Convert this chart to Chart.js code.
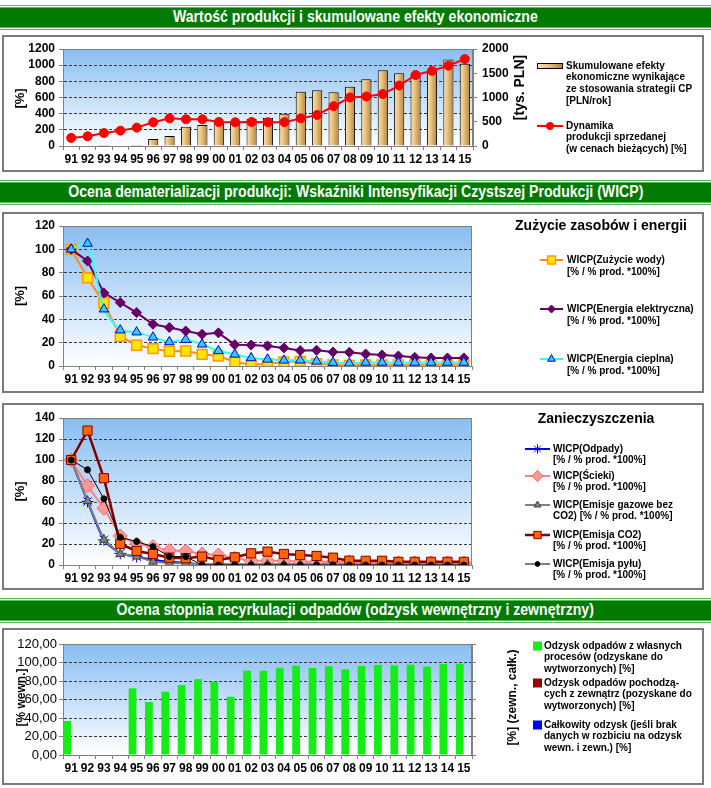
<!DOCTYPE html>
<html>
<head>
<meta charset="utf-8">
<script src="https://cdn.jsdelivr.net/npm/chart.js@4/dist/chart.umd.min.js"></script>
<style>
body{margin:0;background:#fff;width:711px;height:788px;position:relative;overflow:hidden;font-family:"Liberation Sans",Arial,sans-serif}
.hdr{position:absolute;left:0;width:711px;height:19px;line-height:19px;background:#007a00;background-clip:padding-box;
  border-top:3px double #5cb85c;border-bottom:3px double #5cb85c;color:#fff;text-align:center;
  font:bold 16px "Liberation Sans",Arial,sans-serif;white-space:nowrap}
.hdr span{display:inline-block;transform:scaleX(0.88);transform-origin:center}
.panel{position:absolute;left:2px;width:702px;box-sizing:border-box;border:2px solid #7a7a7a;background:#fff}
canvas{position:absolute;left:0}
</style>
</head>
<body>
<div class="hdr" style="top:5px"><span>Wartość produkcji i skumulowane efekty ekonomiczne</span></div>
<div class="panel" style="top:35px;height:137px"></div>
<canvas id="c1" width="711" height="137" style="top:35px"></canvas>

<div class="hdr" style="top:180px"><span>Ocena dematerializacji produkcji: Wskaźniki Intensyfikacji Czystszej Produkcji (WICP)</span></div>
<div class="panel" style="top:212px;height:181px"></div>
<canvas id="c2" width="711" height="181" style="top:212px"></canvas>
<div class="panel" style="top:403px;height:187px"></div>
<canvas id="c3" width="711" height="187" style="top:403px"></canvas>

<div class="hdr" style="top:598px"><span>Ocena stopnia recyrkulacji odpadów (odzysk wewnętrzny i zewnętrzny)</span></div>
<div class="panel" style="top:628px;height:157px"></div>
<canvas id="c4" width="711" height="157" style="top:628px"></canvas>

<script>
// lata (kategorie osi X)
const lata = ['91','92','93','94','95','96','97','98','99','00','01','02','03','04','05','06','07','08','09','10','11','12','13','14','15']

// wykres 1 - efekty ekonomiczne [tys. PLN] i dynamika produkcji [%]
const efektyEkonomiczne = [0,0,2,5,20,145,206,398,433,488,515,557,583,667,1120,1148,1107,1223,1374,1560,1498,1463,1547,1786,1697]
const dynamikaProdukcji = [100,120,160,190,227,293,342,330,330,297,293,297,293,295,342,384,493,600,612,643,748,878,930,994,1076]

// wykres 2 - zuzycie zasobow i energii
const wicpWoda = [100,75.6,54,25.5,17.8,14.9,12.6,12.9,10,8.6,3.4,1.1,2,3.4,4,2,1,0.5,1,1,1,1,1,1,1]
const wicpEnergiaElektr = [100,90,62.7,54.4,45.8,35.8,33,30,27.2,28.4,18.3,18,17.2,15.5,13.2,13.5,12,11.7,10.3,9.5,8.6,7.4,6.9,6.9,6.9]
const wicpEnergiaCiepl = [100,105,48.7,30.7,29,24.6,20.6,22.6,18.6,12.9,10,6.9,5.7,4.9,4.9,4,2.9,2.3,3,3,3,3,3,3,3]

// wykres 3 - zanieczyszczenia
const wicpOdpady = [100,60.5,23.9,11.1,8,4.8,3.2,2.2,0.5,0.5,0.5,0.5,0.5,0.5,0.5,0.5,0.5,0.5,0.5,0.5,0.5,0.5,0.5,0.5,0.5]
const wicpScieki = [100,75.4,54,27.7,20,17.5,13.7,13.4,10.5,9.5,6.4,4,4,4,3,3,3,3,2,2,2,2,2,2,2]
const wicpEmisjeGaz = [100,61,24,10.5,8,3.2,1.6,1.6,0.5,0.5,0.5,0.5,0.5,0.5,0.5,0.5,0.5,0.5,0.5,0.5,0.5,0.5,0.5,0.5,0.5]
const wicpEmisjaCO2 = [100,128,82.7,20,13.4,10.5,7,6.4,8,4.8,7.3,11.1,12.7,10.5,9.5,8.6,7,4.1,4,4,3,3,3,3,3]
const wicpEmisjaPylu = [100,90.7,63,26.4,22.3,17.5,8,8,0,0,0,0,0,0,0,0,0,0,0,0,0,0,0,0,0]

// wykres 4 - odzysk odpadow [%]
const odzyskWlasny = [36.8,null,null,null,72,57.3,68.5,75.7,82,79.3,63,91.2,91.2,94.4,96.6,94,95.9,92.6,96.2,97.3,96.9,97.7,95.5,98.4,98.7]
const odzyskZewn = []
const odzyskCalk = []

// teksty legend
const legenda1 = [
  ['Skumulowane efekty','ekonomiczne wynikające','ze stosowania strategii CP','[PLN/rok]'],
  ['Dynamika','produkcji sprzedanej','(w cenach bieżących) [%]']
]
const legenda2 = [
  ['WICP(Zużycie wody)','[% / % prod. *100%]'],
  ['WICP(Energia elektryczna)','[% / % prod. *100%]'],
  ['WICP(Energia cieplna)','[% / % prod. *100%]']
]
const legenda3 = [
  ['WICP(Odpady)','[% / % prod. *100%]'],
  ['WICP(Ścieki)','[% / % prod. *100%]'],
  ['WICP(Emisje gazowe bez','CO2) [% / % prod. *100%]'],
  ['WICP(Emisja CO2)','[% / % prod. *100%]'],
  ['WICP(Emisja pyłu)','[% / % prod. *100%]']
]
const legenda4 = [
  ['Odzysk odpadów z własnych','procesów (odzyskane do','wytworzonych) [%]'],
  ['Odzysk odpadów pochodzą-','cych z zewnątrz (pozyskane do','wytworzonych) [%]'],
  ['Całkowity odzysk (jeśli brak','danych w rozbiciu na odzysk','wewn. i zewn.) [%]']
]

const FONT = '"Liberation Sans", Arial, sans-serif'
const GRID = '#3a3a3a'
const AXIS = '#808080'

Chart.defaults.font.family = FONT
Chart.defaults.color = '#000'
Chart.defaults.animation = false

function tanFill(g){
  g.addColorStop(0, '#fae4b4')
  g.addColorStop(0.4, '#e9c482')
  g.addColorStop(1, '#b58332')
  return g
}

function tanGradient(c){
  const el = c.element
  if(!el || !isFinite(el.x) || !el.width) return '#e0bc78'
  return tanFill(c.chart.ctx.createLinearGradient(el.x - el.width/2, 0, el.x + el.width/2, 0))
}

const plotBg = {
  id: 'plotBg',
  beforeDraw(chart){
    const {ctx, chartArea: a} = chart
    const g = ctx.createLinearGradient(0, a.top, 0, a.bottom)
    g.addColorStop(0, '#88bdf2')
    g.addColorStop(1, '#ffffff')
    ctx.save()
    ctx.fillStyle = g
    ctx.fillRect(a.left, a.top, a.right - a.left, a.bottom - a.top)
    ctx.restore()
  },
  beforeDatasetsDraw(chart){
    const {ctx, chartArea: a} = chart
    ctx.save()
    ctx.strokeStyle = AXIS
    ctx.lineWidth = 1
    ctx.strokeRect(a.left + 0.5, a.top + 0.5, a.right - a.left - 1, a.bottom - a.top)
    ctx.restore()
  }
}

function axisTitles(list){
  return {
    id: 'axisTitles',
    afterDraw(chart){
      const {ctx, chartArea: a} = chart
      list.forEach(t=>{
        ctx.save()
        ctx.translate(t.x, (a.top + a.bottom)/2 + (t.dy || 0))
        ctx.rotate(-Math.PI/2)
        ctx.font = 'bold ' + (t.size || 13) + 'px ' + FONT
        ctx.fillStyle = '#000'
        ctx.textAlign = 'center'
        ctx.textBaseline = 'middle'
        ctx.fillText(t.text, 0, 0)
        ctx.restore()
      })
    }
  }
}

function drawMarker(ctx, ds, x, y, scale){
  if(!ds.pointRadius) return
  ctx.fillStyle = ds.pointBackgroundColor || ds.borderColor
  ctx.strokeStyle = ds.pointBorderColor || ds.borderColor
  ctx.lineWidth = ds.pointBorderWidth || 1
  const opts = {pointStyle: ds.pointStyle || 'circle', radius: ds.pointRadius * scale, rotation: 0, borderWidth: ds.pointBorderWidth || 1}
  if(Chart.helpers && Chart.helpers.drawPoint){
    Chart.helpers.drawPoint(ctx, opts, x, y)
  } else {
    ctx.beginPath(); ctx.arc(x, y, opts.radius, 0, Math.PI*2); ctx.fill(); ctx.stroke()
  }
}

function legendPlugin(cfg){
  return {
    id: 'legendBox',
    afterDraw(chart){
      const ctx = chart.ctx
      ctx.save()
      if(cfg.title){
        ctx.font = 'bold 14px ' + FONT
        ctx.fillStyle = '#000'
        ctx.textAlign = 'center'
        ctx.textBaseline = 'middle'
        ctx.fillText(cfg.title, cfg.titleX, cfg.titleY)
      }
      cfg.items.forEach(it=>{
        const ds = chart.data.datasets[it.ds]
        const x1 = cfg.iconX1, x2 = cfg.iconX2, y = it.y
        if(it.kind === 'line'){
          ctx.strokeStyle = ds.borderColor
          ctx.lineWidth = ds.borderWidth
          ctx.beginPath(); ctx.moveTo(x1, y); ctx.lineTo(x2, y); ctx.stroke()
          drawMarker(ctx, ds, (x1 + x2)/2, y, 0.8)
        } else if(it.kind === 'bar'){
          ctx.fillStyle = tanFill(ctx.createLinearGradient(x1, 0, x2, 0))
          ctx.fillRect(x1, y - 3, x2 - x1, 6)
          ctx.strokeStyle = '#000'
          ctx.lineWidth = 1
          ctx.strokeRect(x1 + 0.5, y - 2.5, x2 - x1 - 1, 5)
        } else {
          ctx.fillStyle = ds.backgroundColor
          ctx.fillRect(x1, y - 4.5, x2 - x1, 9)
        }
        ctx.font = 'bold 10px ' + FONT
        ctx.fillStyle = '#000'
        ctx.textAlign = 'left'
        ctx.textBaseline = 'middle'
        it.lines.forEach((t, i)=> ctx.fillText(t, cfg.textX, y + i*cfg.lineH))
      })
      ctx.restore()
    }
  }
}

function xScale(h){
  return {
    type: 'category', offset: true,
    grid: {offset: true, drawOnChartArea: false, tickLength: 4, tickColor: AXIS, color: AXIS},
    border: {color: AXIS},
    ticks: {font: {size: 12, weight: 'bold'}, padding: 2, autoSkip: false, maxRotation: 0, minRotation: 0},
    afterFit(s){ s.height = h }
  }
}

function yScale(max, step, w, tickOpts){
  return {
    min: 0, max: max,
    ticks: Object.assign({stepSize: step, autoSkip: false, font: {size: 12, weight: 'bold'}, padding: 4, callback: v => String(v)}, tickOpts || {}),
    grid: {color: c => (c.tick && c.tick.value > 0 && c.tick.value < max) ? GRID : 'rgba(0,0,0,0)', tickLength: 4, tickColor: AXIS},
    border: {color: AXIS, dash: [3,2]},
    afterFit(sc){ sc.width = w }
  }
}

function lineDs(label, data, o){
  return Object.assign({type: 'line', label: label, data: data, fill: false, borderWidth: 2, tension: 0, pointBorderWidth: 1}, o)
}

const common = {responsive: false, animation: false, plugins: {legend: {display: false}, tooltip: {enabled: false}}}

// ---- wykres 1 ----
const ch1 = new Chart(document.getElementById('c1'), {
  type: 'bar',
  data: {
    labels: lata,
    datasets: [
      lineDs('Dynamika produkcji sprzedanej', dynamikaProdukcji, {yAxisID: 'y', borderColor: '#ff0000', backgroundColor: '#ff0000',
        pointRadius: 4.5, pointBackgroundColor: '#ff0000', pointBorderColor: '#ff0000', order: 0}),
      {type: 'bar', label: 'Skumulowane efekty ekonomiczne', data: efektyEkonomiczne, yAxisID: 'y1',
        backgroundColor: tanGradient, borderColor: '#000', borderWidth: 1, categoryPercentage: 1, barPercentage: 0.62, order: 1}
    ]
  },
  options: Object.assign({}, common, {
    layout: {padding: {top: 14, left: 0, right: 0, bottom: 0}},
    scales: {
      x: xScale(26),
      y: yScale(1200, 200, 63),
      y1: {
        position: 'right', min: 0, max: 2000,
        ticks: {stepSize: 500, autoSkip: false, font: {size: 12, weight: 'bold'}, padding: 5, callback: v => String(v)},
        grid: {drawOnChartArea: false, tickLength: 4, tickColor: AXIS},
        border: {color: AXIS},
        afterFit(s){ s.width = 238 }
      }
    }
  }),
  plugins: [plotBg,
    axisTitles([{text: '[%]', x: 20, dy: 1}, {text: '[tys. PLN]', x: 520, dy: -10, size: 14}]),
    legendPlugin({iconX1: 537, iconX2: 563, textX: 566, lineH: 11.7, items: [
      {ds: 1, kind: 'bar', y: 31, lines: legenda1[0]},
      {ds: 0, kind: 'line', y: 91, lines: legenda1[1]}
    ]})
  ]
})
ch1.update()

// ---- wykres 2 ----
new Chart(document.getElementById('c2'), {
  type: 'line',
  data: {
    labels: lata,
    datasets: [
      lineDs(legenda2[0][0], wicpWoda, {borderColor: '#ff8c1a', pointStyle: 'rect', pointRadius: 7,
        pointBackgroundColor: '#ffe600', pointBorderColor: '#ff9900', pointBorderWidth: 1.5, order: 3}),
      lineDs(legenda2[1][0], wicpEnergiaElektr, {borderColor: '#660066', pointStyle: 'rectRot', pointRadius: 5,
        pointBackgroundColor: '#660066', pointBorderColor: '#660066', order: 2}),
      lineDs(legenda2[2][0], wicpEnergiaCiepl, {borderColor: '#33ffff', pointStyle: 'triangle', pointRadius: 5.5, tension: 0.2,
        pointBackgroundColor: '#33ccff', pointBorderColor: '#0000cc', order: 1})
    ]
  },
  options: Object.assign({}, common, {
    layout: {padding: {top: 14, left: 0, right: 239, bottom: 0}},
    scales: {x: xScale(27), y: yScale(120, 20, 63)}
  }),
  plugins: [plotBg,
    axisTitles([{text: '[%]', x: 20}]),
    legendPlugin({title: 'Zużycie zasobów i energii', titleX: 601, titleY: 14, iconX1: 540, iconX2: 563, textX: 567, lineH: 12, items: [
      {ds: 0, kind: 'line', y: 48, lines: legenda2[0]},
      {ds: 1, kind: 'line', y: 97, lines: legenda2[1]},
      {ds: 2, kind: 'line', y: 147, lines: legenda2[2]}
    ]})
  ]
})

// ---- wykres 3 ----
new Chart(document.getElementById('c3'), {
  type: 'line',
  data: {
    labels: lata,
    datasets: [
      lineDs(legenda3[0][0], wicpOdpady, {borderColor: '#0000ff', pointStyle: 'star', pointRadius: 6, tension: 0.2,
        pointBackgroundColor: '#0000ff', pointBorderColor: '#0000ff', order: 5}),
      lineDs(legenda3[1][0], wicpScieki, {borderColor: '#ff8080', pointStyle: 'rectRot', pointRadius: 7,
        pointBackgroundColor: '#ff9999', pointBorderColor: '#ff6666', order: 4}),
      lineDs(legenda3[2][0], wicpEmisjeGaz, {borderColor: '#808080', pointStyle: 'triangle', pointRadius: 5,
        pointBackgroundColor: '#808080', pointBorderColor: '#404040', order: 3}),
      lineDs(legenda3[3][0], wicpEmisjaCO2, {borderColor: '#800000', borderWidth: 2.5, pointStyle: 'rect', pointRadius: 6.5,
        pointBackgroundColor: '#ff6600', pointBorderColor: '#800000', order: 2}),
      lineDs(legenda3[4][0], wicpEmisjaPylu, {borderColor: '#000000', borderWidth: 1, pointStyle: 'circle', pointRadius: 3,
        pointBackgroundColor: '#000000', pointBorderColor: '#000000', order: 1})
    ]
  },
  options: Object.assign({}, common, {
    layout: {padding: {top: 15, left: 0, right: 239, bottom: 0}},
    scales: {x: xScale(25), y: yScale(140, 20, 63)}
  }),
  plugins: [plotBg,
    axisTitles([{text: '[%]', x: 20}]),
    legendPlugin({title: 'Zanieczyszczenia', titleX: 596, titleY: 16, iconX1: 525, iconX2: 550, textX: 553, lineH: 11.5, items: [
      {ds: 0, kind: 'line', y: 46, lines: legenda3[0]},
      {ds: 1, kind: 'line', y: 73, lines: legenda3[1]},
      {ds: 2, kind: 'line', y: 102, lines: legenda3[2]},
      {ds: 3, kind: 'line', y: 132, lines: legenda3[3]},
      {ds: 4, kind: 'line', y: 161, lines: legenda3[4]}
    ]})
  ]
})

// ---- wykres 4 ----
const fmtPL = v => Number(v).toFixed(2).replace('.', ',')
new Chart(document.getElementById('c4'), {
  type: 'bar',
  data: {
    labels: lata,
    datasets: [
      {label: legenda4[0][0], data: odzyskWlasny, backgroundColor: '#14ee14', categoryPercentage: 1, barPercentage: 0.95},
      {label: legenda4[1][0], data: odzyskZewn, backgroundColor: '#990000', categoryPercentage: 1, barPercentage: 0.95},
      {label: legenda4[2][0], data: odzyskCalk, backgroundColor: '#0000ff', yAxisID: 'y1', grouped: false}
    ]
  },
  options: Object.assign({}, common, {
    layout: {padding: {top: 16, left: 0, right: 0, bottom: 0}},
    scales: {
      x: xScale(30),
      y: yScale(120, 20, 63, {callback: fmtPL, font: {size: 13, weight: 'normal'}, padding: 2}),
      y1: {
        position: 'right', min: 0, max: 120,
        ticks: {stepSize: 20, autoSkip: false, display: false},
        grid: {drawOnChartArea: false, tickLength: 4, tickColor: AXIS},
        border: {color: AXIS},
        afterFit(s){ s.width = 239 }
      }
    }
  }),
  plugins: [plotBg,
    axisTitles([{text: '[% wewn.]', x: 22, dy: -2, size: 12}, {text: '[%] (zewn., całk.)', x: 513, dy: -2, size: 12}]),
    legendPlugin({iconX1: 533, iconX2: 542, textX: 544, lineH: 11.7, items: [
      {ds: 0, kind: 'box', y: 18, lines: legenda4[0]},
      {ds: 1, kind: 'box', y: 55, lines: legenda4[1]},
      {ds: 2, kind: 'box', y: 97, lines: legenda4[2]}
    ]})
  ]
})
</script>
</body>
</html>
